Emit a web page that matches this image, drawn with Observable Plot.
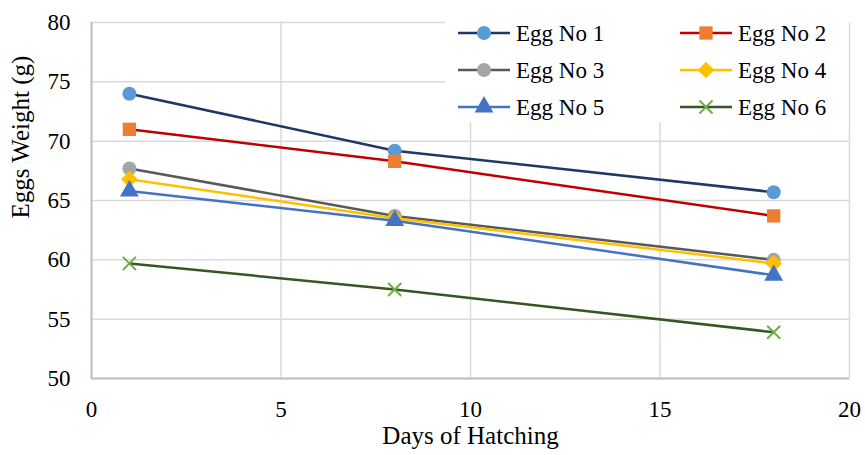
<!DOCTYPE html>
<html><head><meta charset="utf-8">
<script src="https://cdn.jsdelivr.net/npm/d3@7"></script>
<script src="https://cdn.jsdelivr.net/npm/@observablehq/plot@0.6"></script>
<style>
body{margin:0;background:#fff}
#wrap{position:relative;width:865px;height:455px}
#wrap svg, #wrap svg text{font-family:"Liberation Serif","Times New Roman",Tinos,"Noto Serif","DejaVu Serif",Times,serif !important}
#legend{position:absolute;left:445px;top:8px;width:404px;height:114px;background:#fff}
</style></head><body><div id="wrap"></div>
<script>
const days = [1, 8, 18];
const seriesNames = ["Egg No 1", "Egg No 2", "Egg No 3", "Egg No 4", "Egg No 5", "Egg No 6"];
const egg1 = [74.0, 69.2, 65.7];
const egg2 = [71.0, 68.3, 63.7];
const egg3 = [67.7, 63.7, 60.0];
const egg4 = [66.8, 63.5, 59.7];
const egg5 = [65.8, 63.3, 58.7];
const egg6 = [59.7, 57.5, 53.9];
const xTicks = [0, 5, 10, 15, 20];
const yTicks = [50, 55, 60, 65, 70, 75, 80];

const values = [egg1, egg2, egg3, egg4, egg5, egg6];
const lineColors = ["#1f3864", "#c00000", "#595959", "#ffc000", "#4472c4", "#375623"];
const markColors = ["#5b9bd5", "#ed7d31", "#a5a5a5", "#ffc000", "#4472c4", "#70ad47"];
const symbols = ["circle", "square", "circle", "diamond2", "triangle", "times"];
const radii = [7, 7.5, 7, 7.5, 7, 6];

const marks = [
  Plot.gridX(xTicks, {stroke: "#d9d9d9", strokeOpacity: 1, strokeWidth: 1.5}),
  Plot.gridY(yTicks, {stroke: "#d9d9d9", strokeOpacity: 1, strokeWidth: 1.5}),
  Plot.ruleX([0], {stroke: "#bfbfbf", strokeWidth: 2}),
  Plot.ruleY([50], {stroke: "#bfbfbf", strokeWidth: 2})
];
values.forEach((vals, i) => {
  const data = days.map((d, j) => ({day: d, w: vals[j], s: seriesNames[i]}));
  marks.push(Plot.line(data, {x: "day", y: "w", stroke: lineColors[i], strokeWidth: 2.5}));
  if (symbols[i] === "times") {
    marks.push(Plot.dot(data, {x: "day", y: "w", symbol: "times", r: radii[i], stroke: markColors[i], strokeWidth: 2, fill: "none"}));
  } else {
    marks.push(Plot.dot(data, {x: "day", y: "w", symbol: symbols[i], r: radii[i], fill: markColors[i], stroke: "none"}));
  }
});
marks.push(
  Plot.text(xTicks, {x: d => d, frameAnchor: "bottom", dy: 31, lineAnchor: "middle", fontSize: 23, fill: "#000"}),
  Plot.text(yTicks, {y: d => d, frameAnchor: "left", dx: -21, textAnchor: "end", fontSize: 23, fill: "#000"}),
  Plot.text(["Days of Hatching"], {frameAnchor: "bottom", dy: 65, fontSize: 25, fill: "#000"}),
  Plot.text(["Eggs Weight (g)"], {frameAnchor: "left", dx: -71, dy: 18, rotate: -90, fontSize: 25, fill: "#000"})
);

const chart = Plot.plot({
  width: 865, height: 455,
  marginLeft: 91, marginRight: 16, marginTop: 22, marginBottom: 77,
  style: {background: "#fff", overflow: "visible"},
  x: {domain: [0, 20], axis: null},
  y: {domain: [50, 80], axis: null},
  marks
});
const wrap = document.getElementById("wrap");
wrap.appendChild(chart);

// legend
const leg = document.createElement("div");
leg.id = "legend";
wrap.appendChild(leg);
const svg = d3.select(leg).append("svg").attr("width", 404).attr("height", 114);
const symMap = {circle: d3.symbolCircle, square: d3.symbolSquare, diamond2: d3.symbolDiamond2, triangle: d3.symbolTriangle, times: d3.symbolTimes};
const colX = [13, 235];
const rowY = [25, 62, 99];
seriesNames.forEach((name, i) => {
  const cx = colX[i % 2], cy = rowY[Math.floor(i / 2)];
  const g = svg.append("g");
  g.append("line").attr("x1", cx).attr("x2", cx + 52).attr("y1", cy).attr("y2", cy)
    .attr("stroke", lineColors[i]).attr("stroke-width", 2.5);
  const path = d3.symbol(symMap[symbols[i]], Math.PI * radii[i] * radii[i])();
  const p = g.append("path").attr("d", path).attr("transform", `translate(${cx + 26},${cy})`);
  if (symbols[i] === "times") p.attr("fill", "none").attr("stroke", markColors[i]).attr("stroke-width", 2);
  else p.attr("fill", markColors[i]);
  g.append("text").attr("x", cx + 58).attr("y", cy).attr("dy", "0.35em")
    .attr("font-size", 23).attr("fill", "#000").text(name);
});
</script></body></html>
